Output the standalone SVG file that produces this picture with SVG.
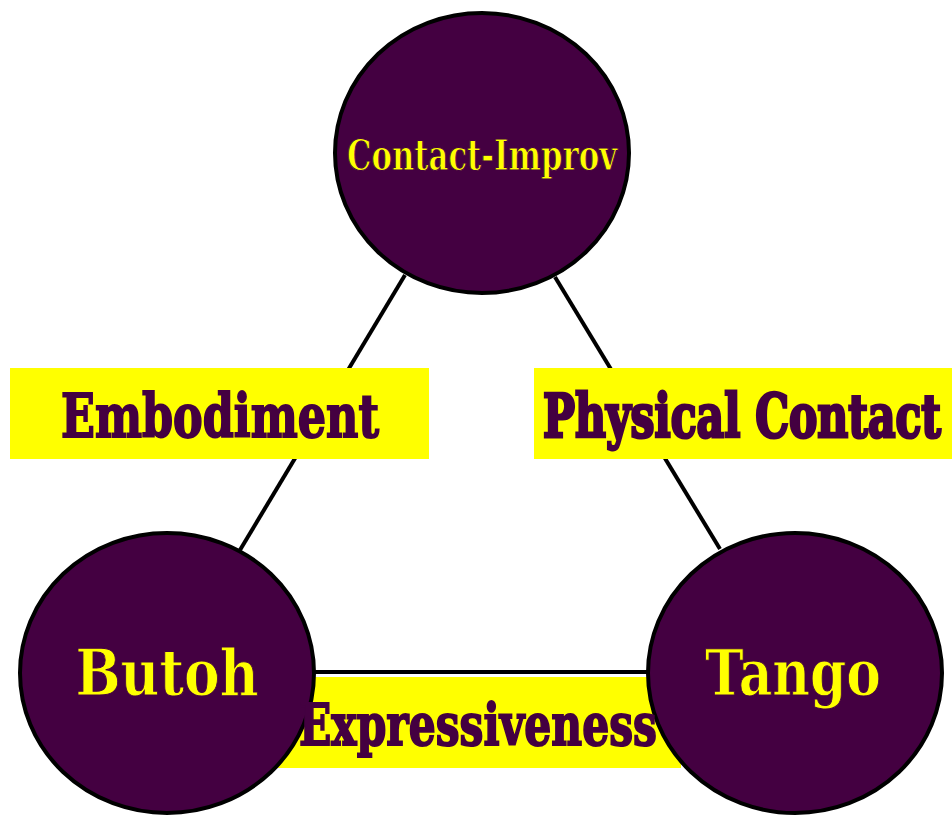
<svg xmlns="http://www.w3.org/2000/svg" width="952" height="817" viewBox="0 0 952 817">
<style>
.edge{stroke:#000;stroke-width:4;fill:none}
.lbox{fill:#ffff00}
.node{fill:#440041;stroke:#000;stroke-width:4}
.ntext{font-family:"DejaVu Serif",serif;font-weight:bold;fill:#ffff00;stroke:#440041;stroke-width:1;text-anchor:middle}
.ltext{font-family:"DejaVu Serif",serif;font-weight:bold;fill:#440041;stroke:#440041;stroke-width:2;text-anchor:middle}
</style>
<rect width="952" height="817" fill="#fff"/>
<g id="connectors">
<line class="edge" x1="405" y1="275" x2="240" y2="550"/>
<line class="edge" x1="555" y1="277" x2="720" y2="549"/>
<line class="edge" x1="315" y1="672" x2="648" y2="672"/>
</g>
<g id="label-boxes">
<rect class="lbox" x="10" y="368" width="419" height="91"/>
<rect class="lbox" x="534" y="368" width="418" height="91"/>
<rect class="lbox" x="263" y="677" width="418" height="91"/>
</g>
<g id="node-contact">
<ellipse class="node" cx="482" cy="153" rx="147" ry="140"/>
<text class="ntext" x="482" y="170" font-size="42" stroke-width="1.5" textLength="270" lengthAdjust="spacingAndGlyphs">Contact-Improv</text>
</g>
<g id="node-butoh">
<ellipse class="node" cx="167" cy="673" rx="147" ry="140"/>
<text class="ntext" x="167" y="695" font-size="64" textLength="183" lengthAdjust="spacingAndGlyphs">Butoh</text>
</g>
<g id="node-tango">
<ellipse class="node" cx="795" cy="673" rx="147" ry="140"/>
<text class="ntext" x="793" y="695" font-size="64" textLength="176" lengthAdjust="spacingAndGlyphs">Tango</text>
</g>
<g id="labels">
<text class="ltext" x="220" y="437" font-size="60" textLength="318" lengthAdjust="spacingAndGlyphs">Embodiment</text>
<g transform="translate(742,437) scale(1,1.6)">
<text class="ltext" x="0" y="0" font-size="37.5" stroke-width="1.4" textLength="398" lengthAdjust="spacingAndGlyphs">Physical Contact</text>
</g>
<text class="ltext" x="478" y="745" font-size="58" textLength="358" lengthAdjust="spacingAndGlyphs">Expressiveness</text>
</g>
</svg>
